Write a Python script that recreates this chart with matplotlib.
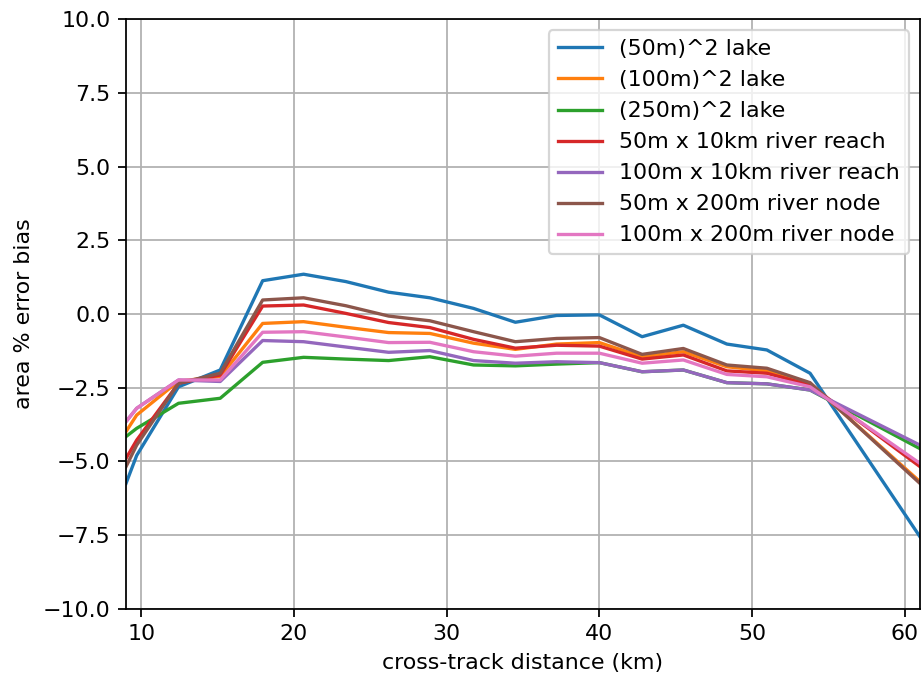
import matplotlib
matplotlib.use("Agg")
import matplotlib.pyplot as plt

# cross-track distance (km)
distance_km = [9.0, 9.7, 12.44, 15.17, 17.95, 20.63, 23.4, 26.2, 28.9, 31.76,
               34.5, 37.2, 40.0, 42.8, 45.5, 48.35, 50.97, 53.8, 61.0]

# area % error bias for each water-body size
lake_50 = [-5.75, -4.8, -2.47, -1.90, 1.13, 1.35, 1.1, 0.74, 0.55, 0.19,
           -0.28, -0.05, -0.03, -0.77, -0.38, -1.02, -1.22, -2.01, -7.56]
lake_100 = [-3.99, -3.43, -2.28, -2.12, -0.32, -0.26, -0.45, -0.63, -0.66, -0.99,
            -1.20, -1.02, -0.97, -1.45, -1.28, -1.79, -1.93, -2.35, -5.69]
lake_250 = [-4.16, -3.88, -3.03, -2.86, -1.64, -1.47, -1.53, -1.58, -1.45, -1.73,
            -1.76, -1.70, -1.65, -1.96, -1.90, -2.33, -2.37, -2.58, -4.57]
reach_50 = [-4.90, -4.28, -2.35, -2.07, 0.27, 0.305, 0.02, -0.29, -0.46, -0.86,
            -1.16, -1.06, -1.09, -1.53, -1.39, -1.93, -2.01, -2.41, -5.18]
reach_100 = [-3.65, -3.2, -2.24, -2.29, -0.90, -0.94, -1.12, -1.30, -1.24, -1.58,
             -1.67, -1.62, -1.65, -1.96, -1.90, -2.33, -2.37, -2.58, -4.45]
node_50 = [-5.18, -4.45, -2.35, -2.01, 0.475, 0.55, 0.28, -0.07, -0.23, -0.60,
           -0.94, -0.83, -0.80, -1.37, -1.17, -1.73, -1.84, -2.33, -5.75]
node_100 = [-3.65, -3.2, -2.24, -2.24, -0.62, -0.60, -0.78, -0.97, -0.96, -1.28,
            -1.43, -1.33, -1.33, -1.67, -1.56, -2.05, -2.13, -2.47, -5.07]

series_labels = ["(50m)^2 lake", "(100m)^2 lake", "(250m)^2 lake",
                 "50m x 10km river reach", "100m x 10km river reach",
                 "50m x 200m river node", "100m x 200m river node"]
series_values = [lake_50, lake_100, lake_250, reach_50, reach_100, node_50, node_100]

W, H, DPI = 923, 681, 159
fig = plt.figure(figsize=(W / DPI, H / DPI), dpi=DPI)
ax = fig.add_axes([126 / W, 1 - 608.7 / H, (920 - 126) / W, (608.7 - 19.3) / H])

for label, values in zip(series_labels, series_values):
    ax.plot(distance_km, values, label=label)

ax.set_xlim(9.0, 61.0)
ax.set_ylim(-10, 10)
ax.set_yticks([-10, -7.5, -5, -2.5, 0, 2.5, 5, 7.5, 10])
ax.grid(True)
ax.set_xlabel("cross-track distance (km)")
ax.set_ylabel("area % error bias")
ax.legend(loc="upper right")

fig.savefig("out.png", dpi=DPI)
